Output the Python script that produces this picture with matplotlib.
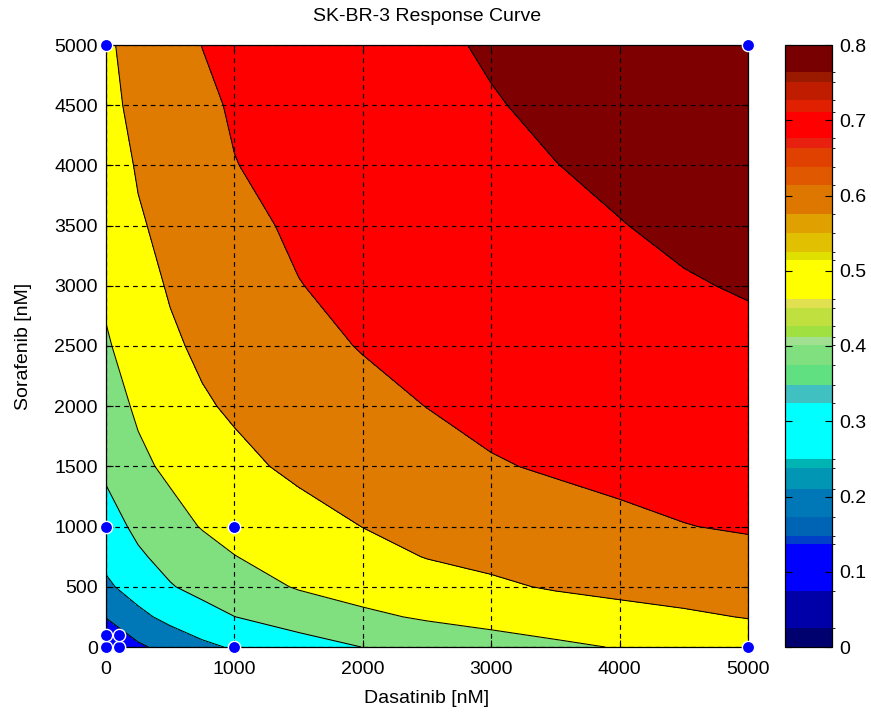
import matplotlib
matplotlib.use("Agg")
import matplotlib.pyplot as plt
import numpy as np
from matplotlib.colors import ListedColormap, BoundaryNorm
import matplotlib.colorbar as mcolorbar

plt.rcParams['font.family'] = ['Liberation Sans', 'DejaVu Sans']

# doses on the response grid [nM]
dasatinib = [0, 250, 500, 750, 1000, 1500, 2000, 2500, 3000, 3500, 4000, 4500, 5000]
sorafenib = [0, 250, 500, 750, 1000, 1500, 2000, 2500, 3000, 3500, 4000, 4500, 5000]

# fitted response, one row per sorafenib dose
resp_s0 = [0.030, 0.085, 0.132, 0.180, 0.210, 0.260, 0.301, 0.335, 0.360, 0.383, 0.405, 0.421, 0.436]
resp_s250 = [0.103, 0.175, 0.228, 0.264, 0.299, 0.343, 0.383, 0.410, 0.430, 0.450, 0.468, 0.485, 0.504]
resp_s500 = [0.183, 0.243, 0.294, 0.328, 0.358, 0.407, 0.435, 0.462, 0.486, 0.508, 0.524, 0.538, 0.553]
resp_s750 = [0.225, 0.287, 0.330, 0.365, 0.398, 0.437, 0.472, 0.503, 0.520, 0.537, 0.553, 0.567, 0.580]
resp_s1000 = [0.260, 0.320, 0.367, 0.405, 0.428, 0.466, 0.501, 0.527, 0.550, 0.568, 0.585, 0.598, 0.607]
resp_s1500 = [0.318, 0.380, 0.418, 0.447, 0.478, 0.518, 0.545, 0.570, 0.594, 0.608, 0.618, 0.627, 0.635]
resp_s2000 = [0.357, 0.414, 0.452, 0.490, 0.512, 0.545, 0.577, 0.601, 0.620, 0.635, 0.646, 0.655, 0.662]
resp_s2500 = [0.391, 0.440, 0.486, 0.516, 0.535, 0.577, 0.604, 0.625, 0.640, 0.656, 0.667, 0.677, 0.685]
resp_s3000 = [0.415, 0.466, 0.508, 0.533, 0.556, 0.598, 0.620, 0.638, 0.656, 0.668, 0.681, 0.695, 0.705]
resp_s3500 = [0.433, 0.491, 0.523, 0.553, 0.579, 0.612, 0.632, 0.651, 0.670, 0.684, 0.698, 0.712, 0.723]
resp_s4000 = [0.452, 0.508, 0.540, 0.570, 0.598, 0.624, 0.646, 0.665, 0.682, 0.699, 0.713, 0.725, 0.735]
resp_s4500 = [0.475, 0.523, 0.554, 0.585, 0.608, 0.634, 0.656, 0.676, 0.696, 0.712, 0.725, 0.735, 0.743]
resp_s5000 = [0.485, 0.535, 0.570, 0.601, 0.620, 0.645, 0.668, 0.688, 0.707, 0.722, 0.733, 0.742, 0.750]

# measured dose combinations
meas_dasatinib = [0, 100, 0, 100, 0, 1000, 1000, 0, 5000, 5000]
meas_sorafenib = [0, 0, 100, 100, 1000, 1000, 0, 5000, 5000, 0]

levels = [0.0, 0.1, 0.2, 0.3, 0.4, 0.5, 0.6, 0.7, 0.8]
level_labels = ['0', '0.1', '0.2', '0.3', '0.4', '0.5', '0.6', '0.7', '0.8']
fill_colors = ['#0000FF', '#0078B8', '#00FFFF', '#80E080', '#FFFF00',
               '#DF7B00', '#FF0000', '#7F0000']

# colour bar bands
bar_edges = [0.0, 0.025, 0.075, 0.1375, 0.147, 0.173, 0.21, 0.2375, 0.25, 0.324,
             0.348, 0.375, 0.401, 0.412, 0.426, 0.45, 0.463, 0.514, 0.525, 0.55,
             0.576, 0.614, 0.638, 0.663, 0.676, 0.711, 0.727, 0.751, 0.7645, 0.8]
bar_colors = ['#00006E', '#0000A8', '#0000FF', '#0040C8', '#0064B4', '#0078B8',
              '#0096B4', '#00B4B4', '#00FFFF', '#40C0C0', '#60E080', '#80E080',
              '#A0E090', '#A0E040', '#C0E040', '#E0E050', '#FFFF00', '#E0E000',
              '#E0C000', '#E0A000', '#DD7700', '#E05800', '#E04000', '#E82010',
              '#FF0000', '#E02000', '#C01C00', '#9A1A00', '#780000']

Z = np.array([resp_s0, resp_s250, resp_s500, resp_s750, resp_s1000, resp_s1500,
              resp_s2000, resp_s2500, resp_s3000, resp_s3500, resp_s4000,
              resp_s4500, resp_s5000])
X, Y = np.meshgrid(dasatinib, sorafenib)

fig = plt.figure(figsize=(8.71, 7.17), dpi=100)
ax = fig.add_axes([106 / 871, 70 / 717, 642 / 871, 602 / 717])

ax.contourf(X, Y, Z, levels=levels, colors=fill_colors)
ax.contour(X, Y, Z, levels=levels[1:-1], colors='black', linewidths=0.75)

ax.scatter(meas_dasatinib, meas_sorafenib, s=78, c='#0000FF', edgecolors='white',
           linewidths=1.0, zorder=5, clip_on=False)

ax.set_xlim(0, 5000)
ax.set_ylim(0, 5000)
ax.set_xticks(range(0, 5001, 1000))
ax.set_yticks(range(0, 5001, 500))
ax.set_axisbelow(False)
ax.grid(True, color='black', linestyle=(0, (4, 3.5)), linewidth=0.85)
ax.tick_params(direction='in', length=5, top=True, right=True, labelsize=14, pad=10)
ax.tick_params(axis='y', pad=6)
for sp in ax.spines.values():
    sp.set_linewidth(0.9)

ax.set_title('SK-BR-3 Response Curve', fontsize=14, pad=17)
ax.set_xlabel('Dasatinib [nM]', fontsize=14, labelpad=9)
ax.set_ylabel('Sorafenib [nM]', fontsize=14, labelpad=16)

cax = fig.add_axes([785 / 871, 70 / 717, 47 / 871, 602 / 717])
cmap = ListedColormap(bar_colors)
norm = BoundaryNorm(bar_edges, cmap.N)
cb = mcolorbar.ColorbarBase(cax, cmap=cmap, norm=norm, boundaries=bar_edges,
                            spacing='proportional', ticks=levels)
cb.ax.set_yticklabels(level_labels)
cb.ax.tick_params(direction='in', length=5, left=True, right=True, labelsize=14, pad=5)
cb.outline.set_linewidth(0.9)

fig.savefig('out.png', dpi=100)
